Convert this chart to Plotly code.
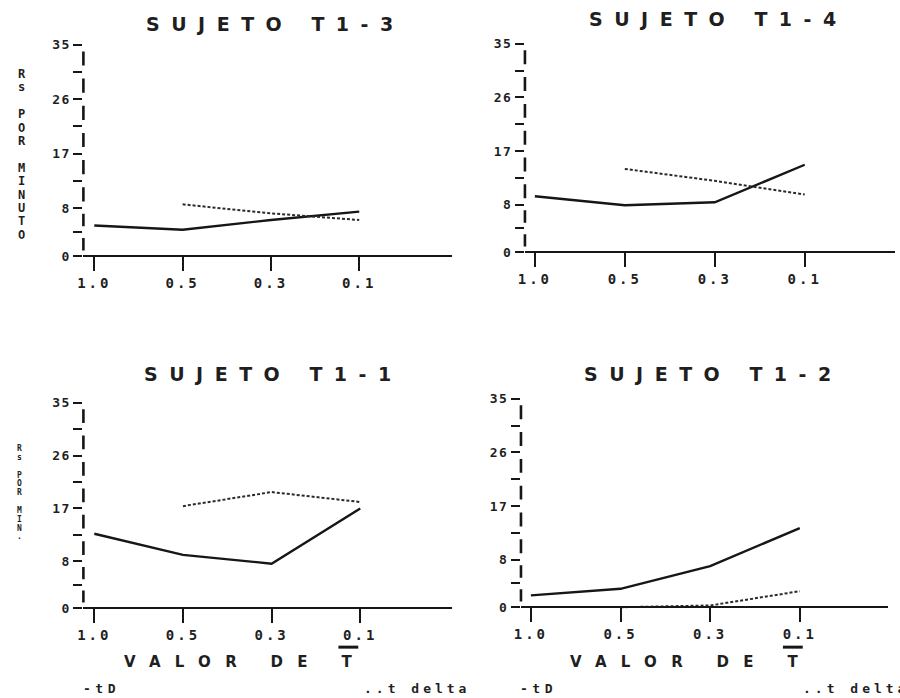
import plotly.graph_objects as go

# ---------------- data ----------------
categories = ["1.0", "0.5", "0.3", "0.1"]
dotted_categories = ["0.5", "0.3", "0.1"]

titles = ["SUJETO T1-3", "SUJETO T1-4", "SUJETO T1-1", "SUJETO T1-2"]

solid_t13 = [5.1, 4.4, 6.0, 7.4]
dotted_t13 = [8.6, 7.1, 6.0]
solid_t14 = [9.4, 7.9, 8.4, 14.7]
dotted_t14 = [14.0, 12.0, 9.7]
solid_t11 = [12.7, 9.1, 7.6, 17.0]
dotted_t11 = [17.4, 19.8, 18.1]
solid_t12 = [2.0, 3.1, 6.9, 13.3]
dotted_t12 = [0.0, 0.3, 2.7]

y_tick_vals = [0, 4, 8, 12.5, 17, 21.5, 26, 30.5, 35]
y_tick_text = ["0", "", "8", "", "17", "", "26", "", "35"]

y_label_top = "Rs POR MINUTO"
y_label_bottom = "Rs POR MIN."
x_label_words = "VALOR DE "
x_label_symbol = "T"
legend_solid = "-tD"
legend_dotted = "..t delta"

# ---------------- layout geometry (pixels) ----------------
W, H = 900, 698
INK = "#161616"
TXT = "#1f1f1f"
MONO = "DejaVu Sans Mono"
SANS = "DejaVu Sans"

panels = [
    dict(L=77, R=448, c0=88, c3=355, y0=255, y35=43, tx=265, ty=22),
    dict(L=522, R=895, c0=532, c3=804, y0=251, y35=42, tx=711, ty=17),
    dict(L=77, R=448, c0=88, c3=356, y0=608, y35=402, tx=263, ty=373),
    dict(L=518, R=888, c0=528, c3=799, y0=607, y35=398, tx=706, ty=373),
]
series = [(solid_t13, dotted_t13), (solid_t14, dotted_t14),
          (solid_t11, dotted_t11), (solid_t12, dotted_t12)]

YLO, YHI = -1.2, 36.0


def ls(text, px):
    return f'<span style="letter-spacing:{px}px">{text}</span>'


def px_x(v):
    return v / W


def px_y(v):
    return 1 - v / H


fig = go.Figure()
shapes = []
annotations = []
layout_axes = {}

for i, (g, title, (sol, dot)) in enumerate(zip(panels, titles, series)):
    n = "" if i == 0 else str(i + 1)
    xa, ya = "x" + n, "y" + n
    fig.add_trace(go.Scatter(x=categories, y=sol, mode="lines",
                             line=dict(color=INK, width=2.4),
                             xaxis=xa, yaxis=ya, showlegend=False, hoverinfo="skip"))
    fig.add_trace(go.Scatter(x=dotted_categories, y=dot, mode="lines",
                             line=dict(color="#2a2a2a", width=2, dash="3px,2px"),
                             xaxis=xa, yaxis=ya, showlegend=False, hoverinfo="skip"))

    s = (g["y0"] - g["y35"]) / 35.0
    bot = g["y0"] - YLO * s
    top = g["y35"] - (YHI - 35) * s
    p = (g["c3"] - g["c0"]) / 3.0
    xr = [(g["L"] - g["c0"]) / p, 3 + (g["R"] - g["c3"]) / p]

    layout_axes["xaxis" + n] = dict(
        domain=[px_x(g["L"]), px_x(g["R"])], range=xr, type="category",
        categoryorder="array", categoryarray=categories,
        anchor="free", position=px_y(g["y0"]),
        showline=True, linecolor=INK, linewidth=2.4,
        ticks="outside", ticklen=14, tickwidth=2.4, tickcolor=INK,
        tickvals=categories, ticktext=[ls(c, 3) for c in categories],
        tickfont=dict(family=MONO, size=14, color=TXT, weight="bold"),
        showgrid=False, zeroline=False, fixedrange=True,
    )
    layout_axes["yaxis" + n] = dict(
        domain=[px_y(bot), px_y(top)], range=[YLO, YHI], anchor=xa,
        tickvals=y_tick_vals, ticktext=[ls(t, 1.5) if t else "" for t in y_tick_text],
        ticks="outside", ticklen=9, tickwidth=2, tickcolor=INK,
        tickfont=dict(family=MONO, size=13, color=TXT, weight="bold"),
        showline=False, showgrid=False, zeroline=False, fixedrange=True,
    )
    # broken y-axis bars between the tick marks
    for a, b in zip(y_tick_vals[:-1], y_tick_vals[1:]):
        d = b - a
        shapes.append(dict(type="line", xref=xa + " domain", yref=ya,
                           x0=0, x1=0, y0=a + 0.24 * d, y1=b - 0.24 * d,
                           line=dict(color=INK, width=2.6)))
    # panel title
    head, tail = title[:-1], title[-1]
    annotations.append(dict(text=ls(head, 11.5) + tail, x=px_x(g["tx"]), y=px_y(g["ty"]),
                            xref="paper", yref="paper", xanchor="center", yanchor="middle",
                            showarrow=False,
                            font=dict(family=SANS, size=19, color=TXT, weight="bold")))


def stacked(text, glyph):
    rows = []
    for ch in text:
        rows.append(f'<span style="font-size:{glyph}px">{ch}</span>' if ch != " " else "\u00a0")
    return "<br>".join(rows)


annotations.append(dict(text=stacked(y_label_top, 12), x=px_x(15), y=px_y(153),
                        xref="paper", yref="paper", xanchor="center", yanchor="middle",
                        showarrow=False, align="center",
                        font=dict(family=MONO, size=10.3, color=TXT, weight="bold")))
annotations.append(dict(text=stacked(y_label_bottom, 8), x=px_x(13), y=px_y(492),
                        xref="paper", yref="paper", xanchor="center", yanchor="middle",
                        showarrow=False, align="center",
                        font=dict(family=MONO, size=6.8, color=TXT, weight="bold")))

# x-axis title "VALOR DE T" (with bar over T) under the two bottom panels
for cx, tcx in ((233, 344), (682, 792)):
    annotations.append(dict(
        text=ls(x_label_words, 14.3) + x_label_symbol,
        x=px_x(cx), y=px_y(662), xref="paper", yref="paper",
        xanchor="center", yanchor="middle", showarrow=False,
        font=dict(family=SANS, size=15, color=TXT, weight="bold")))
    shapes.append(dict(type="line", xref="paper", yref="paper",
                       x0=px_x(tcx - 10), x1=px_x(tcx + 10), y0=px_y(647), y1=px_y(647),
                       line=dict(color=INK, width=3)))

for sx, dx in ((93, 358), (534, 800)):
    annotations.append(dict(text=ls(legend_solid[:-1], 4.5) + legend_solid[-1], x=px_x(sx), y=px_y(688),
                            xref="paper", yref="paper", xanchor="center", yanchor="middle",
                            showarrow=False,
                            font=dict(family=MONO, size=13, color=TXT, weight="bold")))
    annotations.append(dict(text=ls(legend_dotted, 4), x=px_x(dx), y=px_y(688),
                            xref="paper", yref="paper", xanchor="left", yanchor="middle",
                            showarrow=False,
                            font=dict(family=MONO, size=13, color=TXT, weight="bold")))

fig.update_layout(
    width=W, height=H, margin=dict(l=0, r=0, t=0, b=0),
    paper_bgcolor="white", plot_bgcolor="white",
    showlegend=False, shapes=shapes, annotations=annotations,
    **layout_axes,
)

fig.write_html("out.html")
